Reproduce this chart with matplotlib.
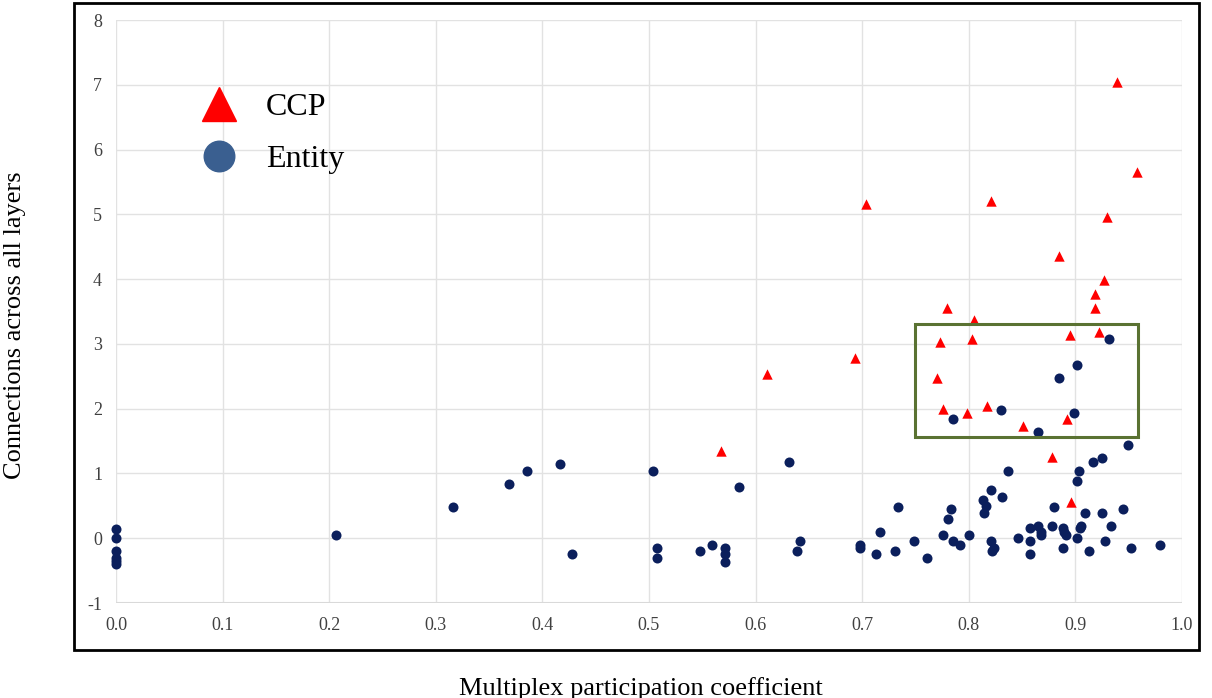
import matplotlib
matplotlib.use("Agg")
import matplotlib.pyplot as plt  # noqa: E402
from matplotlib.lines import Line2D  # noqa: E402
from matplotlib.patches import Rectangle  # noqa: E402

plt.rcParams["font.family"] = ["Liberation Serif", "DejaVu Serif"]

# entity nodes (circles)
ent_x = [0.0, 0.0, 0.0, 0.0, 0.0, 0.0, 0.206, 0.316, 0.369, 0.386, 0.417, 0.428,
         0.504, 0.508, 0.508, 0.548, 0.559, 0.571, 0.571, 0.571, 0.584, 0.631,
         0.639, 0.642, 0.698, 0.698, 0.713, 0.717, 0.731, 0.734, 0.749, 0.761,
         0.776, 0.781, 0.783, 0.785, 0.785, 0.792, 0.800, 0.813, 0.816, 0.814,
         0.821, 0.821, 0.824, 0.822, 0.830, 0.831, 0.837, 0.846, 0.857, 0.857,
         0.857, 0.865, 0.865, 0.868, 0.868, 0.878, 0.880, 0.885, 0.888, 0.889,
         0.891, 0.888, 0.899, 0.902, 0.902, 0.902, 0.903, 0.904, 0.905, 0.909,
         0.913, 0.917, 0.925, 0.925, 0.928, 0.932, 0.933, 0.945, 0.949, 0.952,
         0.979]
ent_y = [0.15, 0.0, -0.2, -0.3, -0.35, -0.4, 0.05, 0.48, 0.84, 1.04, 1.14, -0.25,
         1.04, -0.15, -0.30, -0.20, -0.11, -0.15, -0.25, -0.36, 0.79, 1.18,
         -0.20, -0.05, -0.11, -0.15, -0.25, 0.09, -0.20, 0.48, -0.05, -0.30,
         0.05, 0.29, 0.45, -0.05, 1.84, -0.11, 0.05, 0.59, 0.49, 0.39,
         0.75, -0.05, -0.15, -0.20, 1.98, 0.64, 1.04, 0.00, 0.155, -0.05,
         -0.25, 0.19, 1.64, 0.10, 0.05, 0.19, 0.48, 2.47, 0.155, 0.10,
         0.05, -0.15, 1.93, 0.00, 0.89, 2.67, 1.04, 0.155, 0.19, 0.39,
         -0.20, 1.18, 1.24, 0.39, -0.05, 3.07, 0.19, 0.45, 1.44, -0.15,
         -0.11]

# CCP nodes (triangles)
ccp_x = [0.568, 0.611, 0.693, 0.704, 0.770, 0.773, 0.776, 0.780, 0.798, 0.803,
         0.805, 0.817, 0.821, 0.851, 0.878, 0.885, 0.892, 0.895, 0.896, 0.918,
         0.918, 0.922, 0.927, 0.930, 0.939, 0.958]
ccp_y = [1.34, 2.53, 2.78, 5.16, 2.48, 3.03, 1.99, 3.56, 1.94, 3.08,
         3.37, 2.04, 5.21, 1.74, 1.25, 4.36, 1.84, 3.13, 0.56, 3.77,
         3.56, 3.18, 3.98, 4.96, 7.04, 5.65]

xticks = [0.0, 0.1, 0.2, 0.3, 0.4, 0.5, 0.6, 0.7, 0.8, 0.9, 1.0]
yticks = [-1, 0, 1, 2, 3, 4, 5, 6, 7, 8]

fig = plt.figure(figsize=(12.12, 6.98), dpi=100)
ax = fig.add_axes([0.0957, 0.1361, 0.8795, 0.8352])

ax.scatter(ent_x, ent_y, s=52, marker="o", color="#0b1f5c", zorder=3,
           linewidths=0, clip_on=False)
ax.scatter(ccp_x, ccp_y, s=56, marker="^", color="#ff0000", zorder=4,
           linewidths=0, clip_on=False)

# highlighted region
ax.add_patch(Rectangle((0.750, 1.56), 0.209, 1.75, fill=False,
                       edgecolor="#5a7232", linewidth=2.2, zorder=5))

ax.set_xlim(0, 1.0)
ax.set_ylim(-1, 8)
ax.set_xticks(xticks)
ax.set_xticklabels([f"{v:.1f}" for v in xticks])
ax.set_yticks(yticks)
ax.set_yticklabels([str(v) for v in yticks])
ax.tick_params(length=0, labelsize=13, labelcolor="#404040")
ax.tick_params(axis="x", pad=10)
ax.tick_params(axis="y", pad=10)
ax.grid(True, color="#e2e2e2", linewidth=1.0)
ax.set_axisbelow(True)
for sp in ax.spines.values():
    sp.set_visible(False)
ax.axhline(-1, color="#d9d9d9", linewidth=1.5, zorder=1)

handles = [
    Line2D([], [], marker="^", linestyle="none", markersize=24, color="#ff0000"),
    Line2D([], [], marker="o", linestyle="none", markersize=22, color="#3a5f90"),
]
ax.legend(handles, ["CCP", "Entity"], loc="upper left", bbox_to_anchor=(0.055, 0.897),
          frameon=False, fontsize=23, handletextpad=0.45, labelspacing=0.7,
          borderaxespad=0)

fig.text(0.0124, 0.534, "Connections across all layers", rotation=90,
         ha="center", va="center", fontsize=19)
fig.text(0.529, 0.0143, "Multiplex participation coefficient",
         ha="center", va="center", fontsize=19)

# outer black frame
fig.patches.append(Rectangle((0.061, 0.0688), 0.928, 0.927, transform=fig.transFigure,
                             fill=False, edgecolor="black", linewidth=2))

fig.savefig("out.png", dpi=100, facecolor="white")
